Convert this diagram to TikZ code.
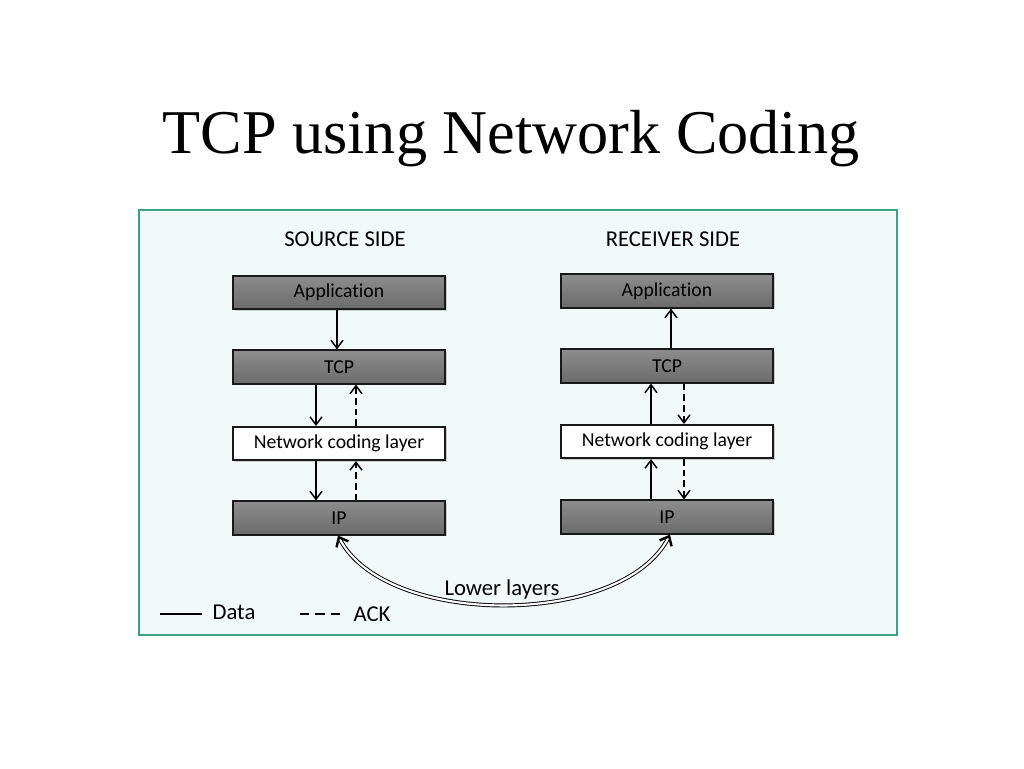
\documentclass[tikz,border=0pt]{standalone}
\usepackage{fontspec}
\setmainfont[Ligatures=NoCommon]{Carlito}
\newfontfamily\titlefont{Liberation Serif}
\usetikzlibrary{arrows.meta,shadows}
\definecolor{framecol}{HTML}{3AA387}
\definecolor{panelbg}{HTML}{F2FAF9}
\tikzset{
  graybox/.style={draw=black!90, line width=1.3pt, top color=black!45, bottom color=black!58,
    minimum width=159pt, minimum height=25pt, inner sep=0pt, font=\fontsize{14.8}{16}\selectfont,
    drop shadow={shadow xshift=1.2pt, shadow yshift=-1.2pt, opacity=0.35}},
  whitebox/.style={draw=black!90, line width=1.3pt, fill=white,
    minimum width=159pt, minimum height=25pt, inner sep=0pt, font=\fontsize{14.8}{16}\selectfont,
    drop shadow={shadow xshift=1.2pt, shadow yshift=-1.2pt, opacity=0.35}},
  data/.style={line width=1.1pt, -{Straight Barb[length=6pt,width=9pt,line width=1.1pt]}},
  ack/.style={data, dash pattern=on 5pt off 3pt},
  sidelabel/.style={font=\fontsize{17}{19}\selectfont, inner sep=0pt},
  legtext/.style={font=\fontsize{17}{19}\selectfont, inner sep=0pt}
}
\begin{document}
\begin{tikzpicture}[x=0.75pt,y=-0.75pt]
\useasboundingbox (0,0) rectangle (1024,768);
\fill[white] (0,0) rectangle (1024,768);
% title
\node[font=\titlefont\fontsize{46.7}{54}\selectfont, inner sep=0pt] (title) at (511,139) {TCP using Network Coding};
% panel
\node[draw=framecol, line width=1.2pt, fill=panelbg, minimum width=568.5pt, minimum height=318.75pt, inner sep=0pt] (panel) at (518,422.5) {};
% side labels
\node[sidelabel] (srclab) at (345,239) {SOURCE SIDE};
\node[sidelabel] (rcvlab) at (673,239) {RECEIVER SIDE};
% source stack
\node[graybox] (sApp) at (339,292.5) {Application};
\node[graybox] (sTCP) at (339,367) {TCP};
\node[whitebox] (sNC) at (339,443.5) {Network coding layer};
\node[graybox] (sIP) at (339,518) {IP};
% receiver stack
\node[graybox] (rApp) at (667,291) {Application};
\node[graybox] (rTCP) at (667,366) {TCP};
\node[whitebox] (rNC) at (667,441.5) {Network coding layer};
\node[graybox] (rIP) at (667,517) {IP};
% source arrows
\draw[data] (sApp.south -| 337,0) -- (sTCP.north -| 337,0);
\draw[data] (sTCP.south -| 316,0) -- (sNC.north -| 316,0);
\draw[ack] (sNC.north -| 356,0) -- (sTCP.south -| 356,0);
\draw[data] (sNC.south -| 316,0) -- (sIP.north -| 316,0);
\draw[ack] (sIP.north -| 356,0) -- (sNC.south -| 356,0);
% receiver arrows
\draw[data] (rTCP.north -| 671,0) -- (rApp.south -| 671,0);
\draw[data] (rNC.north -| 651,0) -- (rTCP.south -| 651,0);
\draw[ack] (rTCP.south -| 684,0) -- (rNC.north -| 684,0);
\draw[data] (rIP.north -| 651,0) -- (rNC.south -| 651,0);
\draw[ack] (rNC.south -| 684,0) -- (rIP.north -| 684,0);
% lower layers
\coordinate (lA) at (sIP.south -| 338,0);
\coordinate (lB) at (rIP.south -| 670,0);
\draw[double=white, double distance=1.6pt, line width=0.7pt,
  {Straight Barb[length=6pt,width=10pt,line width=1.8pt]}-{Straight Barb[length=6pt,width=10pt,line width=1.8pt]}]
  (lA) .. controls (385,628) and (623,628) .. (lB);
\node[legtext] (lower) at (502,589) {Lower layers};
% legend
\coordinate (d1) at (160,614);
\coordinate (d2) at (202,614);
\draw[line width=1.1pt] (d1) -- (d2);
\node[legtext] (datalab) at (234,612) {Data};
\coordinate (a1) at (300,614);
\coordinate (a2) at (341,614);
\draw[line width=1.1pt, dash pattern=on 7pt off 4.5pt] (a1) -- (a2);
\node[legtext] (acklab) at (372,614) {ACK};
\end{tikzpicture}
\end{document}
